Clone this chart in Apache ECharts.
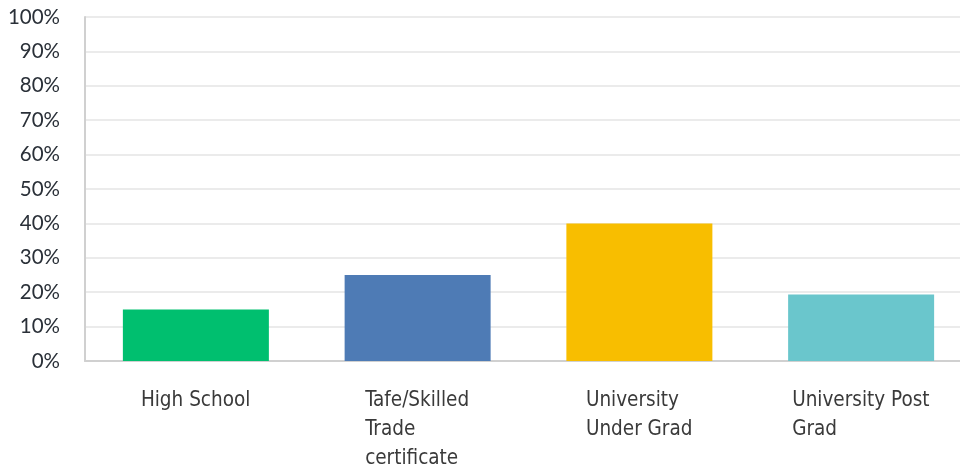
<!DOCTYPE html>
<html>
<head>
<meta charset="utf-8">
<script src="https://cdn.jsdelivr.net/npm/echarts@6/dist/echarts.min.js"></script>
<style>
    html, body { margin: 0; padding: 0; background: #fff; }
    #main { width: 960px; height: 472px; }
</style>
</head>
<body>
<div id="main"></div>
<script>
    // 数据
    var categories = ['High School', 'Tafe/Skilled\nTrade\ncertificate', 'University\nUnder Grad', 'University Post\nGrad'];
    var values = [15, 25, 40, 19.3];
    var colors = ['#00BF6F', '#4E7BB5', '#F8BE00', '#6AC6CC'];

    var labelFamily = '"DejaVu Sans Condensed", "DejaVu Sans", sans-serif';
    var labelSize = 20.5;

    // 每个标签块宽度 = 最长一行的宽度, 块居中, 行左对齐
    var ctx = document.createElement('canvas').getContext('2d');
    ctx.font = labelSize + 'px ' + labelFamily;
    var rich = {};
    categories.forEach(function (c, i) {
        var w = 0;
        c.split('\n').forEach(function (line) {
            w = Math.max(w, ctx.measureText(line).width);
        });
        rich['w' + i] = {
            width: Math.ceil(w),
            align: 'left',
            lineHeight: 29,
            fontSize: labelSize,
            fontFamily: labelFamily,
            color: '#3a3a3a'
        };
    });

    var chart = echarts.init(document.getElementById('main'));
    var option = {
        animation: false,
        grid: { left: 85, width: 887, top: 17, height: 344, outerBoundsMode: 'none' },
        xAxis: {
            type: 'category',
            data: categories,
            axisLine: { lineStyle: { color: '#d0d0d0', width: 2 } },
            axisTick: { show: false },
            axisLabel: {
                interval: 0,
                margin: 25,
                align: 'center',
                verticalAlign: 'top',
                formatter: function (val, idx) {
                    return val.split('\n').map(function (l) {
                        return '{w' + idx + '|' + l + '}';
                    }).join('\n');
                },
                rich: rich
            }
        },
        yAxis: {
            type: 'value',
            min: 0,
            max: 100,
            interval: 10,
            axisLine: { show: true, lineStyle: { color: '#d0d0d0', width: 2 } },
            axisTick: { show: false },
            splitLine: { lineStyle: { color: '#ebebeb', width: 2 } },
            axisLabel: {
                formatter: '{value}%',
                margin: 25,
                fontSize: 20.5,
                fontFamily: 'Lato, sans-serif',
                color: '#2a3038'
            }
        },
        series: [{
            type: 'bar',
            data: values.map(function (v, i) {
                return { value: v, itemStyle: { color: colors[i] } };
            }),
            barWidth: 146
        }]
    };
    chart.setOption(option);
</script>
</body>
</html>
